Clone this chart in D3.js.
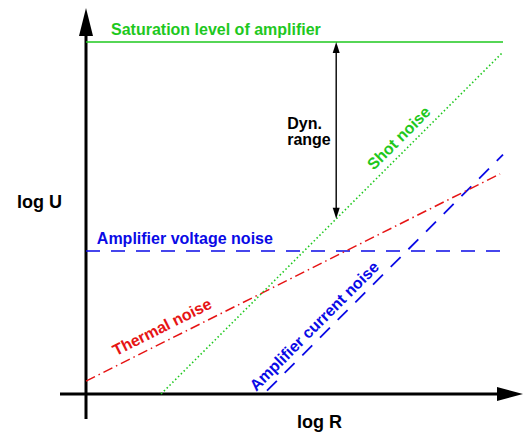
<!DOCTYPE html>
<html><head><meta charset="utf-8">
<script src="https://cdn.jsdelivr.net/npm/d3@7"></script>
<style>
html,body{margin:0;padding:0;background:#fff;}
text{font-family:"Liberation Sans",Arial,Helvetica,sans-serif;font-weight:bold;}
</style></head>
<body>
<svg id="c" width="526" height="436"></svg>
<script>
// Data in arbitrary log units (logR, logU)
const saturation = [[0, 8.44], [10, 8.44]];
const shotNoise = [[1.8, 0], [10, 8.2]];
const thermalNoise = [[0, 0.31], [9.93, 5.28]];
const voltageNoise = [[0, 3.43], [9.93, 3.43]];
const currentNoise = [[4.34, 0.08], [10, 5.74]];
const dynRange = [[6.0, 8.44], [6.0, 4.2]];
const labels = [
  {text: "Saturation level of amplifier", x: 0.6, y: 8.75, rot: 0, color: "#1ec81e", anchor: "start"},
  {text: "Amplifier voltage noise", x: 0.26, y: 3.74, rot: 0, color: "#0a0ae6", anchor: "start"},
  {text: "Shot noise", x: 7.5, y: 6.14, rot: -45, color: "#1ec81e", anchor: "middle"},
  {text: "Thermal noise", x: 1.82, y: 1.61, rot: -26.57, color: "#e61414", anchor: "middle"},
  {text: "Amplifier current noise", x: 5.47, y: 1.63, rot: -45, color: "#0a0ae6", anchor: "middle"}
];
const axisLabels = ["log U", "log R"];
const dynLabel = ["Dyn.", "range"];

const svg = d3.select("#c");
const x = d3.scaleLinear().domain([0, 10]).range([86, 503]);
const y = d3.scaleLinear().domain([0, 10]).range([394, -23]);
const line = d3.line().x(d => x(d[0])).y(d => y(d[1]));

// Axes
const x0 = x(0), y0 = y(0);
svg.append("line").attr("x1", x0).attr("y1", y0 + 25).attr("x2", x0).attr("y2", 34)
  .attr("stroke", "#000").attr("stroke-width", 3);
svg.append("path").attr("d", `M${x0},8 L${x0-7},36 L${x0+7},36 Z`).attr("fill", "#000");
svg.append("line").attr("x1", 60).attr("y1", y0).attr("x2", 500).attr("y2", y0)
  .attr("stroke", "#000").attr("stroke-width", 3);
svg.append("path").attr("d", `M523,${y0} L497,${y0-7} L497,${y0+7} Z`).attr("fill", "#000");

// Lines
svg.append("path").attr("d", line(saturation)).attr("stroke", "#1ec81e").attr("stroke-width", 1.6).attr("fill", "none");
svg.append("path").attr("d", line(voltageNoise)).attr("stroke", "#0a0ae6").attr("stroke-width", 1.6)
  .attr("stroke-dasharray", "14,11").attr("fill", "none");
svg.append("path").attr("d", line(currentNoise)).attr("stroke", "#0a0ae6").attr("stroke-width", 1.8)
  .attr("stroke-dasharray", "14,11").attr("fill", "none");
svg.append("path").attr("d", line(thermalNoise)).attr("stroke", "#e61414").attr("stroke-width", 1.5)
  .attr("stroke-dasharray", "10,4,1.5,4").attr("fill", "none");
svg.append("path").attr("d", line(shotNoise)).attr("stroke", "#1ec81e").attr("stroke-width", 1.6)
  .attr("stroke-dasharray", "1.5,2.5").attr("fill", "none");

// Dynamic range arrow
const dx = x(dynRange[0][0]), dyTop = y(dynRange[0][1]), dyBot = y(dynRange[1][1]);
svg.append("line").attr("x1", dx).attr("y1", dyTop + 6).attr("x2", dx).attr("y2", dyBot - 6)
  .attr("stroke", "#000").attr("stroke-width", 1.4);
svg.append("path").attr("d", `M${dx},${dyTop} L${dx-3.5},${dyTop+11} L${dx+3.5},${dyTop+11} Z`).attr("fill", "#000");
svg.append("path").attr("d", `M${dx},${dyBot} L${dx-3.5},${dyBot-11} L${dx+3.5},${dyBot-11} Z`).attr("fill", "#000");
svg.append("text").attr("x", dx - 49).attr("y", y(6.49)).attr("dy", "0.35em")
  .attr("font-size", 16).attr("fill", "#000").text(dynLabel[0]);
svg.append("text").attr("x", dx - 49).attr("y", y(6.11)).attr("dy", "0.35em")
  .attr("font-size", 16).attr("fill", "#000").text(dynLabel[1]);

// Curve labels
labels.forEach(l => {
  const px = x(l.x), py = y(l.y);
  svg.append("text").attr("transform", `translate(${px},${py}) rotate(${l.rot})`)
    .attr("text-anchor", l.anchor).attr("dy", "0.35em")
    .attr("font-size", 16).attr("fill", l.color).text(l.text);
});

// Axis labels
svg.append("text").attr("x", 17).attr("y", y(4.61)).attr("dy", "0.35em")
  .attr("font-size", 18).attr("fill", "#000").text(axisLabels[0]);
svg.append("text").attr("x", x(5.6)).attr("y", y0 + 28).attr("dy", "0.35em").attr("text-anchor", "middle")
  .attr("font-size", 18).attr("fill", "#000").text(axisLabels[1]);
</script>
</body></html>
